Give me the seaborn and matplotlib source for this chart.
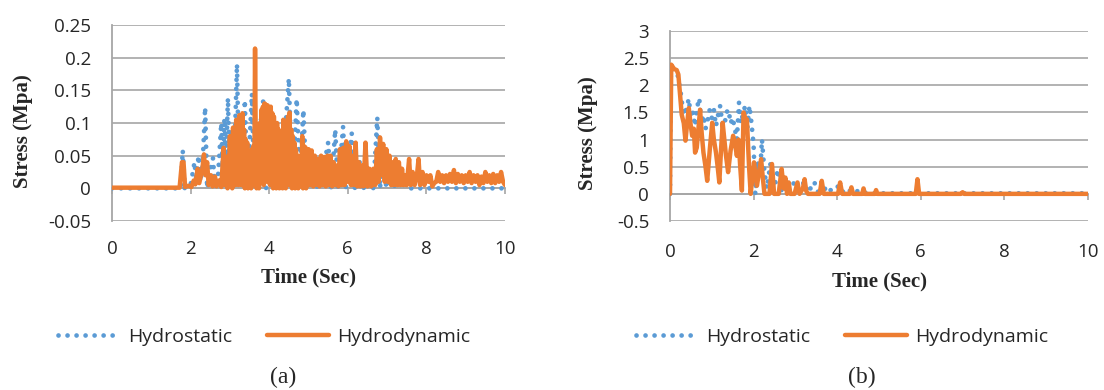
import numpy as np
import pandas as pd
import matplotlib
matplotlib.use("Agg")
import matplotlib.pyplot as plt
import seaborn as sns

# ---------------- data ----------------
# Panel (a) - Hydrodynamic (orange), three stretches of the record
a_dyn_t1 = [0, 1.72, 1.78, 1.82, 1.86, 1.95, 2.02, 2.08, 2.12, 2.18, 2.22, 2.3, 2.34, 2.38, 2.42,
            2.46, 2.52, 2.56, 2.62, 2.66, 2.72, 2.78, 2.84, 2.88]
a_dyn_v1 = [0.001, 0.001, 0.04, 0.04, 0.002, 0.004, 0.002, 0.012, 0.006, 0.03, 0.008, 0.03, 0.052, 0.02, 0.04,
            0.005, 0.02, 0.003, 0.018, 0.003, 0.012, 0.002, 0.062, 0.005]

a_dyn_t2 = [2.90, 2.92, 2.94, 2.96, 2.98, 3.00, 3.02, 3.04, 3.06, 3.08, 3.10, 3.12, 3.14, 3.16, 3.18,
            3.20, 3.22, 3.24, 3.26, 3.28, 3.30, 3.32, 3.34, 3.36, 3.38, 3.40, 3.42, 3.44, 3.46, 3.48,
            3.50, 3.52, 3.54, 3.56, 3.58, 3.60, 3.62, 3.64, 3.66, 3.68, 3.70, 3.72, 3.74, 3.76, 3.78,
            3.80, 3.82, 3.84, 3.86, 3.88, 3.90, 3.92, 3.94, 3.96, 3.98, 4.00, 4.02, 4.04, 4.06, 4.08,
            4.10, 4.12, 4.14, 4.16, 4.18, 4.20, 4.22, 4.24, 4.26, 4.28, 4.30, 4.32, 4.34, 4.36, 4.38,
            4.40, 4.42, 4.44, 4.46, 4.48, 4.50, 4.52, 4.54, 4.56, 4.58, 4.60, 4.62, 4.64, 4.66, 4.68,
            4.70, 4.72, 4.74, 4.76, 4.78, 4.80, 4.82, 4.84, 4.86, 4.88, 4.90, 4.92, 4.94, 4.96, 4.98,
            5.00]
a_dyn_v2 = [0.005, 0.04, 0.0, 0.05, 0.005, 0.08, 0.005, 0.07, 0.0, 0.093, 0.01, 0.085, 0.005, 0.105, 0.01,
            0.1, 0.005, 0.112, 0.02, 0.11, 0.005, 0.115, 0.01, 0.09, 0.0, 0.075, 0.005, 0.07, 0.0, 0.05,
            0.005, 0.055, 0.0, 0.06, 0.005, 0.065, 0.01, 0.214, 0.05, 0.0, 0.07, 0.09, 0.0, 0.1, 0.01,
            0.12, 0.02, 0.125, 0.005, 0.13, 0.02, 0.128, 0.01, 0.127, 0.03, 0.12, 0.005, 0.125, 0.02, 0.115,
            0.0, 0.11, 0.01, 0.1, 0.0, 0.1, 0.01, 0.09, 0.0, 0.08, 0.005, 0.085, 0.0, 0.105, 0.01,
            0.1, 0.0, 0.09, 0.01, 0.11, 0.005, 0.116, 0.01, 0.09, 0.0, 0.08, 0.005, 0.07, 0.0, 0.06,
            0.005, 0.05, 0.0, 0.045, 0.005, 0.05, 0.005, 0.08, 0.0, 0.065, 0.005, 0.063, 0.0, 0.06, 0.005,
            0.06]

a_dyn_t3 = [5.04, 5.08, 5.12, 5.16, 5.2, 5.24, 5.28, 5.32, 5.36, 5.4, 5.44, 5.48, 5.52, 5.56, 5.6,
            5.64, 5.68, 5.72, 5.76, 5.8, 5.84, 5.88, 5.92, 5.96, 6.0, 6.04, 6.08, 6.12, 6.16, 6.2,
            6.24, 6.28, 6.32, 6.36, 6.4, 6.45, 6.5, 6.55, 6.6, 6.65, 6.7, 6.74, 6.78, 6.82, 6.86,
            6.9, 6.94, 6.98, 7.02, 7.06, 7.1, 7.14, 7.18, 7.22, 7.26, 7.3, 7.34, 7.38, 7.42, 7.46,
            7.5, 7.56, 7.6, 7.65, 7.7, 7.76, 7.8, 7.84, 7.9, 7.95, 8.0, 8.05, 8.1, 8.15, 8.2,
            8.25, 8.3, 8.35, 8.4, 8.45, 8.5, 8.55, 8.6, 8.65, 8.7, 8.75, 8.8, 8.85, 8.9, 8.95,
            9.0, 9.05, 9.1, 9.15, 9.2, 9.25, 9.3, 9.35, 9.4, 9.45, 9.5, 9.55, 9.6, 9.65, 9.7,
            9.75, 9.8, 9.85, 9.9, 9.95, 10.0]
a_dyn_v3 = [0.005, 0.058, 0.003, 0.05, 0.005, 0.045, 0.003, 0.05, 0.005, 0.048, 0.003, 0.05, 0.005, 0.05, 0.003,
            0.04, 0.005, 0.035, 0.003, 0.06, 0.005, 0.062, 0.005, 0.072, 0.01, 0.065, 0.005, 0.05, 0.005, 0.07,
            0.003, 0.04, 0.003, 0.035, 0.003, 0.07, 0.003, 0.03, 0.003, 0.03, 0.005, 0.06, 0.01, 0.078, 0.02,
            0.068, 0.01, 0.06, 0.01, 0.05, 0.005, 0.04, 0.005, 0.045, 0.005, 0.04, 0.005, 0.03, 0.005, 0.02,
            0.005, 0.045, 0.005, 0.025, 0.005, 0.02, 0.045, 0.005, 0.025, 0.005, 0.02, 0.01, 0.02, 0.003, 0.008,
            0.01, 0.025, 0.01, 0.02, 0.008, 0.02, 0.01, 0.022, 0.01, 0.028, 0.008, 0.022, 0.01, 0.02, 0.008,
            0.02, 0.01, 0.025, 0.008, 0.02, 0.01, 0.02, 0.005, 0.018, 0.008, 0.025, 0.01, 0.02, 0.008, 0.022,
            0.008, 0.02, 0.01, 0.025, 0.01, 0.005]

# Panel (a) - Hydrostatic (blue, dotted)
a_sta_t = [0, 1.75, 1.8, 1.85, 2.0, 2.1, 2.15, 2.2, 2.25, 2.3, 2.37, 2.42, 2.5, 2.57, 2.62, 2.7, 2.78,
           2.82, 2.86, 2.9, 2.95, 3.0, 3.05, 3.1, 3.18, 3.23, 3.28, 3.32, 3.38, 3.44, 3.5, 3.56, 3.62,
           3.7, 3.78, 3.85, 3.92, 4.0, 4.1, 4.2, 4.3, 4.4, 4.5, 4.58, 4.64, 4.7, 4.78, 4.87, 4.95, 5.1,
           5.2, 5.35, 5.5, 5.58, 5.68, 5.75, 5.88, 5.95, 6.1, 6.18, 6.3, 6.4, 6.55, 6.65, 6.75, 6.82,
           6.9, 6.98, 7.1, 7.2, 7.4, 7.5, 10.0]
a_sta_v = [0, 0, 0.058, 0.0, 0.005, 0.04, 0.01, 0.05, 0.01, 0.03, 0.124, 0.0, 0.03, 0.046, 0.0, 0.02, 0.1,
           0.03, 0.107, 0.04, 0.138, 0.01, 0.09, 0.02, 0.19, 0.03, 0.09, 0.01, 0.135, 0.0, 0.07, 0.145, 0.0,
           0.06, 0.1, 0.135, 0.0, 0.05, 0.02, 0.06, 0.0, 0.08, 0.168, 0.0, 0.06, 0.137, 0.01, 0.12, 0.0, 0.03,
           0.0, 0.02, 0.07, 0.0, 0.09, 0.0, 0.094, 0.0, 0.084, 0.0, 0.04, 0.0, 0.02, 0.0, 0.108, 0.0,
           0.06, 0.0, 0.04, 0.0, 0.02, 0.0, 0.0]

# Panel (b) - Hydrodynamic (orange)
b_dyn_t = [0, 0.03, 0.1, 0.16, 0.2, 0.25, 0.28, 0.33, 0.37, 0.41, 0.45, 0.49, 0.53, 0.57, 0.6,
           0.64, 0.68, 0.72, 0.76, 0.8, 0.85, 0.89, 0.95, 1.01, 1.05, 1.1, 1.14, 1.18, 1.22, 1.26,
           1.3, 1.34, 1.39, 1.45, 1.51, 1.56, 1.6, 1.64, 1.68, 1.72, 1.76, 1.8, 1.84, 1.89, 1.93,
           1.97, 2.01, 2.05, 2.08, 2.13, 2.18, 2.22, 2.26, 2.38, 2.44, 2.49, 2.6, 2.67, 2.72, 2.76,
           2.8, 2.84, 2.88, 2.98, 3.05, 3.1, 3.18, 3.22, 3.26, 3.3, 3.58, 3.63, 3.68, 4.02, 4.07,
           4.12, 4.3, 4.34, 4.38, 4.6, 4.63, 4.66, 4.9, 4.93, 4.96, 5.88, 5.92, 5.96, 6.96, 7.0,
           7.04, 10.0]
b_dyn_v = [0.0, 2.38, 2.3, 2.28, 2.2, 1.74, 1.46, 1.3, 0.98, 1.3, 1.58, 1.3, 1.07, 1.2, 0.76,
           0.85, 1.2, 1.55, 1.1, 0.76, 0.5, 0.24, 0.8, 1.31, 1.0, 0.76, 0.5, 0.21, 0.8, 1.31,
           1.0, 0.7, 0.4, 0.8, 1.07, 0.9, 0.7, 1.0, 0.5, 0.06, 1.5, 1.4, 1.37, 0.52, 0.0,
           0.3, 0.58, 0.3, 0.15, 0.4, 0.64, 0.3, 0.0, 0.0, 0.55, 0.0, 0.0, 0.46, 0.1, 0.3,
           0.0, 0.21, 0.0, 0.0, 0.21, 0.0, 0.1, 0.27, 0.05, 0.0, 0.0, 0.24, 0.0, 0.0, 0.21,
           0.0, 0.0, 0.12, 0.0, 0.0, 0.1, 0.0, 0.0, 0.07, 0.0, 0.0, 0.27, 0.0, 0.0, 0.03,
           0.0, 0.0]

# Panel (b) - Hydrostatic (blue, dotted)
b_sta_t = [0, 0.02, 0.1, 0.18, 0.25, 0.3, 0.35, 0.4, 0.45, 0.5, 0.55, 0.6, 0.65, 0.7, 0.75,
           0.8, 0.85, 0.9, 0.95, 1.0, 1.05, 1.1, 1.15, 1.2, 1.25, 1.3, 1.35, 1.4, 1.45, 1.5,
           1.55, 1.6, 1.65, 1.7, 1.75, 1.8, 1.85, 1.9, 1.95, 2.0, 2.04, 2.1, 2.15, 2.2, 2.26,
           2.32, 2.4, 2.48, 2.58, 2.66, 2.76, 2.85, 3.0, 3.1, 3.2, 3.3, 3.45, 3.55, 3.65, 3.75,
           4.0, 4.1, 4.25, 4.35, 4.55, 4.7, 10.0]
b_sta_v = [0.0, 2.3, 2.28, 2.2, 1.9, 1.6, 1.45, 1.6, 1.75, 1.4, 1.5, 1.25, 1.6, 1.76, 1.3,
           1.45, 1.2, 1.35, 1.55, 1.4, 1.55, 1.25, 1.45, 1.62, 1.3, 1.25, 1.5, 1.55, 1.3, 1.4,
           1.2, 1.0, 1.68, 1.3, 1.5, 1.62, 1.2, 1.62, 1.3, 0.9, 0.0, 0.6, 0.3, 1.0, 0.4,
           0.1, 0.55, 0.05, 0.45, 0.05, 0.3, 0.05, 0.25, 0.02, 0.22, 0.02, 0.22, 0.02, 0.2, 0.02,
           0.15, 0.02, 0.1, 0.01, 0.07, 0.01, 0.01]

series_names = ["Hydrostatic", "Hydrodynamic"]
x_ticks = [0, 2, 4, 6, 8, 10]
a_yticks = [-0.05, 0, 0.05, 0.1, 0.15, 0.2, 0.25]
a_yticklabels = ["-0.05", "0", "0.05", "0.1", "0.15", "0.2", "0.25"]
b_yticks = [-0.5, 0, 0.5, 1, 1.5, 2, 2.5, 3]
b_yticklabels = ["-0.5", "0", "0.5", "1", "1.5", "2", "2.5", "3"]
captions = ["(a)", "(b)"]
x_label = "Time (Sec)"
y_label = "Stress (Mpa)"

a_dyn_t = a_dyn_t1 + a_dyn_t2 + a_dyn_t3
a_dyn_v = a_dyn_v1 + a_dyn_v2 + a_dyn_v3

# ---------------- styling ----------------
sns.set_style("white")
plt.rcParams["font.family"] = ["Open Sans", "DejaVu Sans"]

BLUE = "#5B9BD5"
ORANGE = "#ED7D31"
GRID = "#A6A6A6"
TXT = "#262626"

fig = plt.figure(figsize=(11.04, 3.9), dpi=100)
ax_a = fig.add_axes([112 / 1104, 1 - 221 / 390, 393 / 1104, 196 / 390])
ax_b = fig.add_axes([670 / 1104, 1 - 221 / 390, 418 / 1104, 190 / 390])

panels = [
    (ax_a, a_sta_t, a_sta_v, a_dyn_t, a_dyn_v, a_yticks, a_yticklabels, (-0.05, 0.25),
     (-0.2265, 0.46), (0.499, -0.286), 14),
    (ax_b, b_sta_t, b_sta_v, b_dyn_t, b_dyn_v, b_yticks, b_yticklabels, (-0.5, 3.0),
     (-0.196, 0.463), (0.502, -0.316), 15.5),
]

for ax, st, sv, dt, dv, yt, ytl, ylim, ylc, xlc, xpad in panels:
    df_s = pd.DataFrame({"t": st, "v": sv})
    df_d = pd.DataFrame({"t": dt, "v": dv})
    sns.lineplot(data=df_s, x="t", y="v", ax=ax, color=BLUE, linewidth=3.4,
                 linestyle=(0, (0.01, 1.9)), dash_capstyle="round", estimator=None,
                 sort=False, label=series_names[0], zorder=3)
    sns.lineplot(data=df_d, x="t", y="v", ax=ax, color=ORANGE, linewidth=3.2,
                 estimator=None, sort=False, label=series_names[1], zorder=4)
    if ax.get_legend() is not None:
        ax.get_legend().remove()

    ax.set_xlim(0, 10)
    ax.set_ylim(*ylim)
    ax.set_axisbelow(True)
    for s in ["top", "right", "bottom"]:
        ax.spines[s].set_visible(False)
    ax.spines["left"].set_color(GRID)
    ax.spines["left"].set_linewidth(1.3)

    ax.set_yticks(yt)
    ax.set_yticklabels(ytl)
    ax.yaxis.grid(True, color=GRID, linewidth=1.2)
    ax.xaxis.grid(False)
    ax.tick_params(axis="y", length=5.5, width=1.2, color=GRID, direction="out",
                   pad=9.5, labelsize=13.5, labelcolor=TXT)
    ax.set_xticks(x_ticks)
    ax.set_xticklabels([str(v) for v in x_ticks])
    ax.tick_params(axis="x", length=0, pad=xpad, labelsize=13.5, labelcolor=TXT)

    # horizontal axis line at zero with its tick marks (Excel-style)
    zero_frac = (0 - ylim[0]) / (ylim[1] - ylim[0])
    sec = ax.secondary_xaxis(zero_frac)
    sec.set_xticks(x_ticks)
    sec.tick_params(axis="x", length=4.5, width=1.2, color=GRID, direction="out",
                    labelbottom=False, labeltop=False)
    sec.spines["bottom"].set_color(GRID)
    sec.spines["bottom"].set_linewidth(1.3)
    for s in ["top", "left", "right"]:
        sec.spines[s].set_visible(False)

    ax.set_xlabel(x_label, fontfamily="Liberation Serif", fontweight="bold", fontsize=15,
                  color=TXT)
    ax.set_ylabel(y_label, fontfamily="Liberation Serif", fontweight="bold", fontsize=15,
                  color=TXT)
    ax.xaxis.set_label_coords(*xlc)
    ax.xaxis.label.set_verticalalignment("center")
    ax.yaxis.set_label_coords(*ylc)
    ax.yaxis.label.set_verticalalignment("center")

# legends
for ax, cx in [(ax_a, 264), (ax_b, 842)]:
    handles, labels = ax.get_legend_handles_labels()
    fig.legend(handles, labels, loc="center", bbox_to_anchor=(cx / 1104, 1 - 337 / 390),
               ncol=2, frameon=False, fontsize=14, handlelength=3.2, handletextpad=0.4,
               columnspacing=1.8, labelcolor=TXT)

# captions
for cap, cx in zip(captions, [283, 862]):
    fig.text(cx / 1104, 1 - 377 / 390, cap, ha="center", va="center",
             fontfamily="Liberation Serif", fontsize=17, color=TXT)

fig.savefig("out.png", dpi=100)
